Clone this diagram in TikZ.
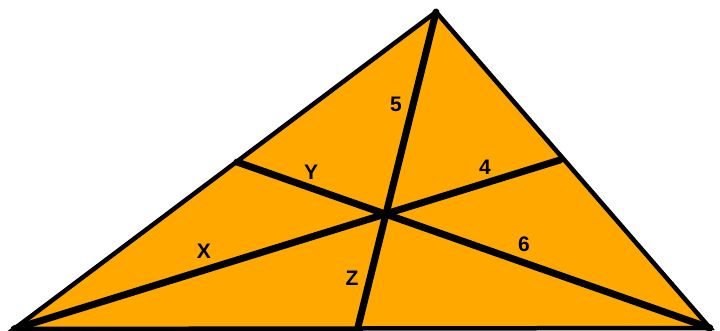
\documentclass[tikz,border=0pt]{standalone}
\usepackage{fontspec}
\setmainfont{Liberation Sans}
\definecolor{fillorange}{RGB}{255,168,0}
\begin{document}
\begin{tikzpicture}[x=1pt,y=-1pt,
  edge/.style={draw=black,line width=4.5pt,line join=miter},
  cevian/.style={draw=black,line width=7pt,line cap=round},
  lbl/.style={font=\bfseries\fontsize{21}{21}\selectfont,inner sep=0pt}]
\useasboundingbox (0,0) rectangle (720,331);
\coordinate (A) at (14,329);
\coordinate (B) at (436,12);
\coordinate (C) at (710,328);
\coordinate (P) at (237,162);
\coordinate (Q) at (560,160);
\coordinate (R) at (357,331);
\fill[fillorange] (A) -- (B) -- (C) -- cycle;
\draw[cevian] (A) -- (Q);
\draw[cevian] (P) -- (C);
\draw[cevian] (B) -- (R);
\draw[edge] (A) -- (B) -- (C) -- cycle;
\node[lbl] (l5) at (396,104) {5};
\node[lbl] (lY) at (311,172) {Y};
\node[lbl] (l4) at (485,167) {4};
\node[lbl] (lX) at (204,251) {X};
\node[lbl] (l6) at (524,244) {6};
\node[lbl] (lZ) at (352,278) {Z};
\end{tikzpicture}
\end{document}
